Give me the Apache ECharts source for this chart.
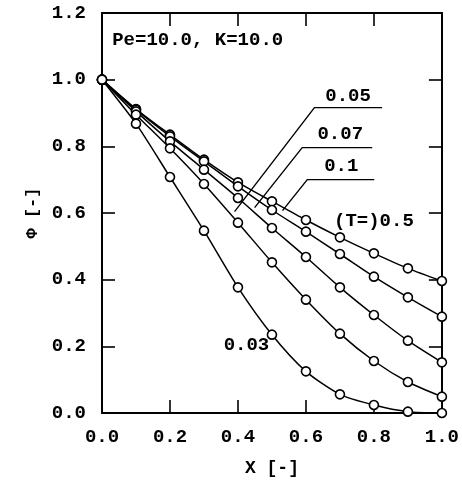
<!DOCTYPE html>
<html>
<head>
<meta charset="utf-8">
<script src="https://cdn.jsdelivr.net/npm/echarts@6/dist/echarts.min.js"></script>
<style>
html,body{margin:0;padding:0;background:#fff;}
#chart{width:462px;height:483px;}
</style>
</head>
<body>
<div id="chart"></div>
<script>
// ---- data ----
var xValues = [0.0, 0.1, 0.2, 0.3, 0.4, 0.5, 0.6, 0.7, 0.8, 0.9, 1.0];
var seriesT = ['0.5', '0.1', '0.07', '0.05', '0.03'];
var phiT05  = [1.0, 0.912, 0.835, 0.760, 0.692, 0.635, 0.579, 0.527, 0.479, 0.434, 0.396];
var phiT01  = [1.0, 0.910, 0.830, 0.755, 0.680, 0.609, 0.544, 0.477, 0.409, 0.347, 0.289];
var phiT007 = [1.0, 0.905, 0.815, 0.730, 0.645, 0.555, 0.468, 0.377, 0.294, 0.217, 0.152];
var phiT005 = [1.0, 0.895, 0.794, 0.687, 0.571, 0.452, 0.340, 0.238, 0.156, 0.093, 0.049];
var phiT003 = [1.0, 0.868, 0.708, 0.547, 0.377, 0.235, 0.125, 0.056, 0.024, 0.004, 0.0];
var xTicks = [0.0, 0.2, 0.4, 0.6, 0.8, 1.0];
var yTicks = [0.0, 0.2, 0.4, 0.6, 0.8, 1.0, 1.2];
// annotation leader lines (data coordinates): [end on curve, corner, right end]
var leader005 = [[0.390, 0.604], [0.625, 0.916], [0.824, 0.916]];
var leader007 = [[0.449, 0.616], [0.589, 0.796], [0.795, 0.796]];
var leader01  = [[0.531, 0.607], [0.604, 0.700], [0.801, 0.700]];
var labels = [
  {text: '0.05', at: [0.724, 0.949]},
  {text: '0.07', at: [0.701, 0.835]},
  {text: '0.1', at: [0.704, 0.739]},
  {text: '(T=)0.5', at: [0.800, 0.575]},
  {text: '0.03', at: [0.425, 0.204]}
];
var paramText = 'Pe=10.0, K=10.0';
var paramAt = [0.03, 1.117];

var FONT = '"Liberation Mono", "DejaVu Sans Mono", monospace';
var allPhi = [phiT05, phiT01, phiT007, phiT005, phiT003];

function pairs(ys) { return xValues.map(function (x, i) { return [x, ys[i]]; }); }

var series = allPhi.map(function (ys, k) {
  return {
    name: 'T=' + seriesT[k], type: 'line', data: pairs(ys),
    smooth: 0.25, symbol: 'circle', symbolSize: 9, showSymbol: true,
    lineStyle: {color: '#000', width: 1.5},
    itemStyle: {color: '#fff', borderColor: '#000', borderWidth: 1.6},
    z: 3
  };
});
[leader005, leader007, leader01].forEach(function (ld) {
  series.push({type: 'line', data: ld, symbol: 'none', silent: true,
    lineStyle: {color: '#000', width: 1.4}, z: 2});
});

var chart = echarts.init(document.getElementById('chart'), null, {renderer: 'canvas'});
function axisBase(extra) {
  return Object.assign({
    type: 'value', min: 0, interval: 0.2,
    splitLine: {show: false},
    axisLine: {show: true, onZero: false, lineStyle: {color: '#000', width: 2}},
    axisTick: {show: true, inside: true, length: 13, lineStyle: {color: '#000', width: 1.6}}
  }, extra);
}
var fmt = function (v) { return v.toFixed(1); };
chart.setOption({
  animation: false,
  backgroundColor: '#fff',
  grid: {left: 102, right: 19, top: 13, bottom: 70, containLabel: false},
  xAxis: [
    axisBase({
      max: 1.0, position: 'bottom',
      name: 'X [-]', nameLocation: 'middle', nameGap: 46,
      nameTextStyle: {fontFamily: FONT, fontWeight: 'bold', fontSize: 18, color: '#000'},
      axisLabel: {margin: 15, fontFamily: FONT, fontWeight: 'bold', fontSize: 19, color: '#000', formatter: fmt}
    }),
    axisBase({max: 1.0, position: 'top', axisLabel: {show: false}})
  ],
  yAxis: [
    axisBase({
      max: 1.2, position: 'left',
      name: 'Φ [-]', nameLocation: 'middle', nameGap: 60, nameRotate: 90,
      nameTextStyle: {fontFamily: FONT, fontWeight: 'bold', fontSize: 17, color: '#000'},
      axisLabel: {margin: 16, fontFamily: FONT, fontWeight: 'bold', fontSize: 19, color: '#000', formatter: fmt}
    }),
    axisBase({max: 1.2, position: 'right', axisLabel: {show: false}})
  ],
  series: series
});

var gr = [];
labels.forEach(function (l) {
  var p = chart.convertToPixel({xAxisIndex: 0, yAxisIndex: 0}, l.at);
  gr.push({type: 'text', x: p[0], y: p[1], z: 10,
    style: {text: l.text, font: 'bold 19px ' + FONT, fill: '#000', align: 'center', verticalAlign: 'middle'}});
});
var pp = chart.convertToPixel({xAxisIndex: 0, yAxisIndex: 0}, paramAt);
gr.push({type: 'text', x: pp[0], y: pp[1], z: 10,
  style: {text: paramText, font: 'bold 19px ' + FONT, fill: '#000', align: 'left', verticalAlign: 'middle'}});
chart.setOption({graphic: gr});
</script>
</body>
</html>
